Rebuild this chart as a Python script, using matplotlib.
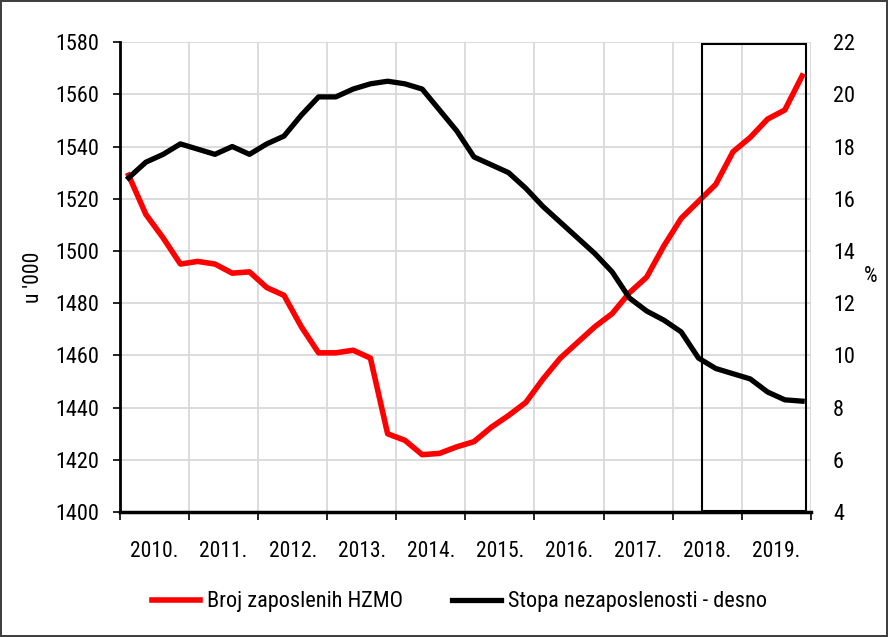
import numpy as np
import matplotlib
matplotlib.use('Agg')
from matplotlib import pyplot as plt
from matplotlib.patches import Rectangle

# quarterly data 2010Q1 - 2019Q4
years = ['2010.', '2011.', '2012.', '2013.', '2014.', '2015.', '2016.', '2017.', '2018.', '2019.']
zaposleni = [1529, 1514, 1505, 1495, 1496, 1495, 1491.5, 1492,
             1486, 1483, 1471, 1461, 1461, 1462, 1459, 1430,
             1427.5, 1422, 1422.5, 1425, 1427, 1432.5, 1437, 1442,
             1451, 1459, 1465, 1471, 1476, 1484, 1490, 1502,
             1512.5, 1519, 1525.5, 1538, 1543.5, 1550.5, 1554, 1567]
stopa = [16.8, 17.4, 17.7, 18.1, 17.9, 17.7, 18.0, 17.7,
         18.1, 18.4, 19.2, 19.9, 19.9, 20.2, 20.4, 20.5,
         20.4, 20.2, 19.4, 18.6, 17.6, 17.3, 17.0, 16.4,
         15.7, 15.1, 14.5, 13.9, 13.2, 12.2, 11.7, 11.35,
         10.9, 9.9, 9.5, 9.3, 9.1, 8.6, 8.3, 8.25]

plt.rcParams['font.family'] = ['Roboto Condensed', 'Lato', 'DejaVu Sans']

x = np.arange(len(zaposleni))

fig = plt.figure(figsize=(8.88, 6.37), dpi=100)
fig.patch.set_edgecolor('#404040')
fig.patch.set_linewidth(1.5)
ax = fig.add_axes([0.1351, 0.196, 0.913 - 0.1351, 0.934 - 0.196])
ax2 = ax.twinx()

l1, = ax.plot(x, zaposleni, color='#ff0000', lw=4, solid_joinstyle='round', zorder=3,
              label='Broj zaposlenih HZMO')
l2, = ax2.plot(x, stopa, color='black', lw=3.8, solid_joinstyle='round', zorder=3,
               label='Stopa nezaposlenosti - desno')

ax.set_xlim(-0.5, len(x) - 0.5)
ax.set_ylim(1400, 1580)
ax.set_yticks(np.arange(1400, 1581, 20))
ax2.set_ylim(4, 22)
ax2.set_yticks(np.arange(4, 23, 2))

ax.set_xticks(np.arange(-0.5, len(x), 4))
ax.set_xticks(np.arange(1.5, len(x), 4), minor=True)
ax.set_xticklabels([])
ax.set_xticklabels(years, minor=True)
ax.tick_params(axis='x', which='major', length=6, width=1.2, direction='out')
ax.tick_params(axis='x', which='minor', length=0, pad=21, labelsize=15.5)
ax.tick_params(axis='y', length=5, width=1.2, labelsize=16, pad=10)
ax2.tick_params(axis='y', length=0, labelsize=16, pad=16)

ax.grid(True, which='major', color='#d9d9d9', lw=1.3)
ax.set_axisbelow(True)

for s in ['top', 'right']:
    ax.spines[s].set_visible(False)
for s in ['top', 'right', 'left', 'bottom']:
    ax2.spines[s].set_visible(False)
ax.spines['left'].set_linewidth(2)
ax.spines['bottom'].set_linewidth(2.5)

ax.set_ylabel("u '000", fontsize=15.5, labelpad=8)
fig.text(0.981, 0.566, '%', fontsize=15.5, ha='center', va='center')

# highlighted box over last period
ax2.add_patch(Rectangle((33.2, 4.05), 39.2 - 33.2, 21.92 - 4.05, fill=False,
                        edgecolor='black', lw=1.5, zorder=4))

fig.legend(handles=[l1, l2], loc='center', bbox_to_anchor=(0.517, 0.055), ncol=2,
           frameon=False, fontsize=16, handlelength=2.2, handletextpad=0.3, columnspacing=2.2)

fig.savefig('out.png', dpi=100)
